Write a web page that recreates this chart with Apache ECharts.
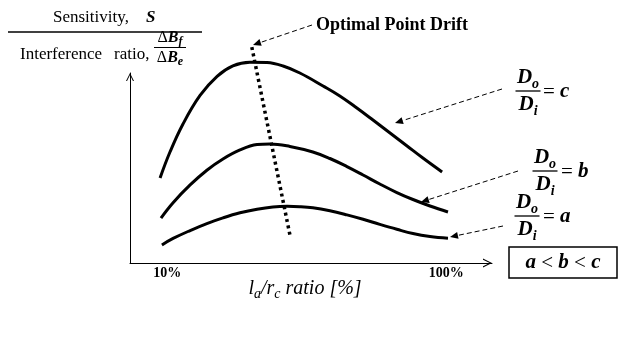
<!DOCTYPE html>
<html><head><meta charset="utf-8">
<script src="https://cdn.jsdelivr.net/npm/echarts@6/dist/echarts.min.js"></script>
<style>html,body{margin:0;padding:0;background:#fff}#c{width:618px;height:359px}</style>
</head><body><div id="c"></div>
<script>
// ---- data (arbitrary sensitivity units) ----
const ratioC = [7.7,10.9,15.1,20.6,26.1,31.2,36.7,42.2,47.4,52.8,60.3,65.7,71.2,76.4,81.9,87.4,92.5,98.7];
const sensC  = [5.37,7.01,8.78,10.58,11.79,12.45,12.68,12.66,12.44,12.00,11.18,10.55,9.79,9.03,8.21,7.39,6.63,5.75];
const ratioB = [8.0,11.9,17.4,22.8,28.0,33.5,39.0,43.2,49.6,57.0,62.5,68.0,73.2,78.6,84.1,89.3,94.8,100.6];
const sensB  = [2.84,3.81,4.93,5.86,6.57,7.14,7.48,7.52,7.36,7.01,6.60,6.09,5.56,4.99,4.45,4.01,3.60,3.22];
const ratioA = [8.3,11.9,17.4,22.8,28.0,33.5,39.0,44.1,48.7,52.8,57.0,62.5,68.0,73.2,78.6,84.1,89.3,94.8,100.6];
const sensA  = [1.14,1.55,2.05,2.49,2.85,3.17,3.40,3.54,3.58,3.56,3.49,3.30,3.04,2.76,2.44,2.13,1.86,1.67,1.56];
const driftRatio = [37.3, 49.6];
const driftSens  = [13.64, 1.77];
const tickValues = [10, 100];

const SERIF = '"Liberation Serif","Times New Roman",serif';
function pairs(xs, ys){ return xs.map((x,i)=>[x, ys[i]]); }

function arrow(x1,y1,x2,y2){
  const dx=x2-x1, dy=y2-y1, L=Math.hypot(dx,dy), ux=dx/L, uy=dy/L;
  const hl=8, hw=3.5, bx=x2-ux*hl, by=y2-uy*hl;
  return [
    {type:'line', shape:{x1:x1,y1:y1,x2:bx,y2:by}, style:{stroke:'#000',lineWidth:1,lineDash:[5,3]}},
    {type:'polygon', shape:{points:[[x2,y2],[bx-uy*hw,by+ux*hw],[bx+uy*hw,by-ux*hw]]}, style:{fill:'#000'}}
  ];
}
const RICH = {
  v:{fontFamily:SERIF,fontSize:21,fontWeight:'bold',fontStyle:'italic',lineHeight:26,fill:'#000'},
  s:{fontFamily:SERIF,fontSize:14,fontWeight:'bold',fontStyle:'italic',verticalAlign:'bottom',fill:'#000'},
  op:{fontFamily:SERIF,fontSize:21,lineHeight:26,fill:'#000'},
  d:{fontFamily:SERIF,fontSize:16,lineHeight:19,fill:'#000'},
  B:{fontFamily:SERIF,fontSize:16,fontWeight:'bold',fontStyle:'italic',lineHeight:19,fill:'#000'},
  bs:{fontFamily:SERIF,fontSize:12,fontWeight:'bold',fontStyle:'italic',verticalAlign:'bottom',fill:'#000'},
  t:{fontFamily:SERIF,fontSize:20,fontStyle:'italic',lineHeight:25,fill:'#000'},
  ts:{fontFamily:SERIF,fontSize:14,fontStyle:'italic',verticalAlign:'bottom',fill:'#000'}
};
function txt(x,y,text,align,va,extra){
  return {type:'text', x:x, y:y, style:Object.assign({text:text, rich:RICH, align:align||'left', verticalAlign:va||'middle', fill:'#000', fontFamily:SERIF}, extra||{})};
}
function frac(cx, barY, barW, num, den, lw){
  return [
    {type:'line', shape:{x1:cx-barW/2,y1:barY,x2:cx+barW/2,y2:barY}, style:{stroke:'#000',lineWidth:lw||1.3}},
    txt(cx, barY, num, 'center', 'bottom'),
    txt(cx, barY+1, den, 'center', 'top')
  ];
}
function ratioLabel(cx, barY, eqX, letter){
  return frac(cx, barY, 25, '{v|D}{s|o}', '{v|D}{s|i}')
    .concat([txt(eqX, barY+1, '{op|= }{v|'+letter+'}', 'left', 'middle')]);
}

const chevron = 'path://M0,10L5,0L10,10L8.7,10L5,2.6L1.3,10Z';
const graphics = [].concat(
  [txt(53, 18, 'Sensitivity,', 'left', 'middle', {fontSize:17})],
  [txt(146, 18, 'S', 'left', 'middle', {fontSize:17, fontWeight:'bold', fontStyle:'italic'})],
  [{type:'line', shape:{x1:8,y1:32,x2:202,y2:32}, style:{stroke:'#000',lineWidth:1.3}}],
  [txt(20, 55, 'Interference', 'left', 'middle', {fontSize:17})],
  [txt(114, 55, 'ratio,', 'left', 'middle', {fontSize:17})],
  frac(170, 47.5, 32, '{d|Δ}{B|B}{bs|f}', '{d|Δ}{B|B}{bs|e}', 1),
  [txt(316, 25, 'Optimal Point Drift', 'left', 'middle', {fontSize:18, fontWeight:'bold'})],
  arrow(312, 25, 253, 45),
  ratioLabel(528, 91, 543, 'c'),
  arrow(502, 89, 395, 123),
  ratioLabel(545, 171, 561, 'b'),
  arrow(518, 171, 421, 202),
  ratioLabel(527, 216, 543, 'a'),
  arrow(503, 226, 450, 237),
  [{type:'rect', shape:{x:509,y:247,width:108,height:31}, style:{fill:'none',stroke:'#000',lineWidth:1.5}}],
  [txt(563, 263, '{v|a}{op| < }{v|b}{op| < }{v|c}', 'center', 'middle')],
  [txt(305, 289, '{t|l}{ts|a}{t|/r}{ts|c}{t| ratio [%]}', 'center', 'middle')]
);

const lineBase = {type:'line', smooth:0.4, showSymbol:false, symbol:'none', clip:false, silent:true,
  lineStyle:{color:'#000', width:3}};

const chart = echarts.init(document.getElementById('c'), null, {renderer:'canvas'});
chart.setOption({
  animation:false,
  backgroundColor:'#fff',
  grid:{left:130, top:73, width:362, height:190},
  xAxis:{type:'value', min:-2, max:114.8,
    axisLine:{show:true, onZero:false, symbol:['none', chevron], symbolSize:[11,9], symbolOffset:[0,-4.5],
      lineStyle:{color:'#000', width:1}},
    axisTick:{show:false}, splitLine:{show:false},
    axisLabel:{customValues:tickValues, formatter:'{value}%', margin:3, color:'#000',
      fontFamily:SERIF, fontWeight:'bold', fontSize:14}},
  yAxis:{type:'value', min:0, max:12,
    axisLine:{show:true, onZero:false, symbol:['none', chevron], symbolSize:[9,8], symbolOffset:[0,-4],
      lineStyle:{color:'#000', width:1}},
    axisTick:{show:false}, splitLine:{show:false}, axisLabel:{show:false}},
  series:[
    Object.assign({}, lineBase, {name:'Do/Di = c', data:pairs(ratioC, sensC)}),
    Object.assign({}, lineBase, {name:'Do/Di = b', data:pairs(ratioB, sensB)}),
    Object.assign({}, lineBase, {name:'Do/Di = a', data:pairs(ratioA, sensA)}),
    {type:'line', name:'Optimal point drift', data:pairs(driftRatio, driftSens), smooth:false,
      showSymbol:false, symbol:'none', clip:false, silent:true,
      lineStyle:{color:'#000', width:3.5, type:[3,3.5], cap:'butt'}}
  ],
  graphic:graphics
});
</script>
</body></html>
